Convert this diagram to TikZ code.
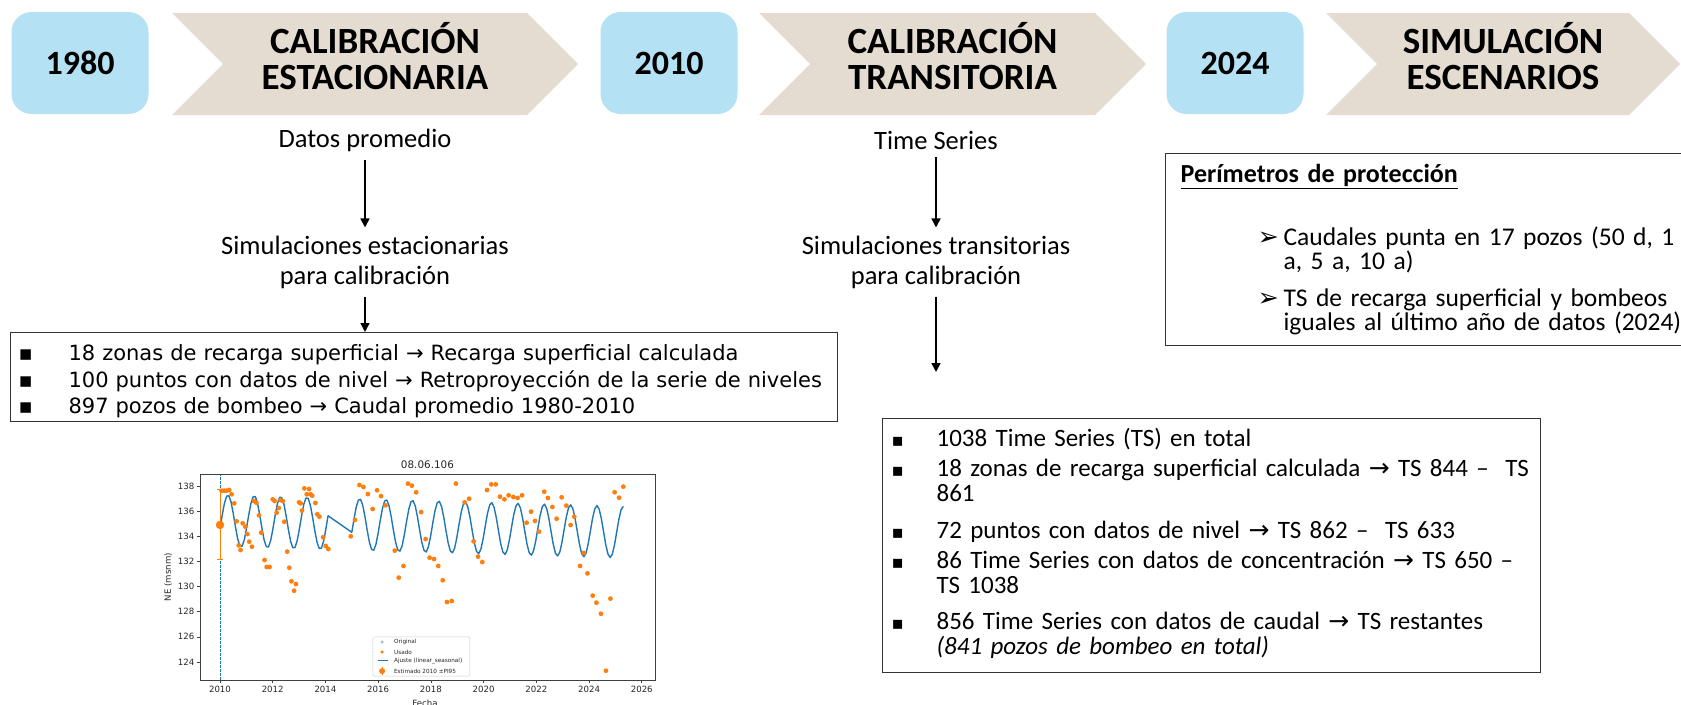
\documentclass[tikz,border=0pt]{standalone}
\usepackage{fontspec}
\setmainfont{Carlito}
\newfontfamily\dejavu{DejaVu Sans}
\usetikzlibrary{arrows.meta}

\definecolor{yearblue}{HTML}{B4E1F3}
\definecolor{phasebeige}{HTML}{E4DBD1}
\definecolor{mplblue}{HTML}{1F77B4}
\definecolor{mplorange}{HTML}{FF7F0E}
\definecolor{mplgrey}{HTML}{AFC0D6}

\newcommand{\sqbullet}{{\dejavu\fontsize{18}{18}\selectfont ▪}}
\newcommand{\tsarrow}{{\dejavu →}}

\begin{document}
\begin{tikzpicture}[x=1pt, y=-1pt,
    yearbox/.style={fill=yearblue, rounded corners=20pt, minimum width=137pt, minimum height=102pt,
      font=\bfseries\fontsize{34}{36}\selectfont},
    phasetext/.style={align=center, font=\bfseries\fontsize{37}{36}\selectfont},
    bodytext/.style={align=center, inner sep=8pt, font=\fontsize{26.5}{30}\selectfont},
    listbox/.style={draw=black!80, line width=1.2pt, fill=white, anchor=north west, align=left},
    flowarrow/.style={line width=1.6pt, -{Triangle[length=9pt,width=9pt]}},
    ticklabel/.style={font=\dejavu\fontsize{8.6}{9}\selectfont, text=black!85, inner sep=2pt},
    legendtext/.style={font=\dejavu\fontsize{5.7}{6}\selectfont, text=black!85, anchor=west, inner sep=1pt},
  ]

	% Page and background.
	\useasboundingbox (0,0) rectangle (1681,704);
	\fill[white] (0,0) rectangle (1681,704);

	% Draw phase chevrons.
	\foreach \lft/\tip/\nm/\txt in {172/578/est/{CALIBRACIÓN\\ESTACIONARIA},
	    759/1146/tra/{CALIBRACIÓN\\TRANSITORIA}, 1326/1680/esc/{SIMULACIÓN\\ESCENARIOS}} {
		\fill[phasebeige] (\lft,13) -- (\tip-51,13) -- (\tip,64) -- (\tip-51,115)
		  -- (\lft,115) -- (\lft+51,64) -- cycle;
		\node[phasetext] (\nm) at ({(\lft+\tip)/2},56) {\txt};
	}

	% Draw years.
	\node[yearbox] (y1980) at (80,63) {1980};
	\node[yearbox] (y2010) at (669,63) {2010};
	\node[yearbox] (y2024) at (1235,63) {2024};

	% Steps below the phases.
	\node[bodytext] (datos) at (365,140) {Datos promedio};
	\node[bodytext] (simest) at (365,262) {Simulaciones estacionarias\\para calibración};
	\node[bodytext] (tseries) at (936,140) {Time Series};
	\node[bodytext] (simtra) at (936,262) {Simulaciones transitorias\\para calibración};
	\coordinate (trafin) at (936,372);

	% Boxes with the inputs.
	\node[listbox, minimum height=86pt, text width=811pt, inner xsep=8pt,
	  font=\dejavu\fontsize{21}{26.5}\selectfont] (recarga) at (10,332) {%
		\rule{0pt}{25pt}\makebox[50pt][l]{▪}18 zonas de recarga superficial → Recarga superficial calculada\\
		\makebox[50pt][l]{▪}\mbox{100 puntos con datos de nivel → Retroproyección de la serie de niveles}\\
		\makebox[50pt][l]{▪}897 pozos de bombeo → Caudal promedio 1980-2010};

	\node[listbox, minimum height=254pt, text width=640pt, inner xsep=9pt,
	  font=\fontsize{25}{25}\selectfont] (series) at (882,418) {%
		\makebox[45pt][l]{\sqbullet}1038 Time Series (TS) en total\\[5pt]
		\makebox[45pt][l]{\sqbullet}\mbox{18 zonas de recarga superficial calculada \tsarrow{} TS 844 – \ TS}\\
		\hspace*{45pt}861\\[12pt]
		\makebox[45pt][l]{\sqbullet}\mbox{72 puntos con datos de nivel \tsarrow{} TS 862 – \ TS 633}\\[5pt]
		\makebox[45pt][l]{\sqbullet}\mbox{86 Time Series con datos de concentración \tsarrow{} TS 650 –}\\
		\hspace*{45pt}TS 1038\\[11pt]
		\makebox[45pt][l]{\sqbullet}\mbox{856 Time Series con datos de caudal \tsarrow{} TS restantes}\\
		\hspace*{45pt}\textit{(841 pozos de bombeo en total)}\rule[-9pt]{0pt}{9pt}};

	\node[listbox, minimum height=192pt, text width=540pt, inner xsep=15pt,
	  font=\fontsize{25.5}{24}\selectfont] (perimetros) at (1165,153) {%
		{\bfseries\fontsize{26}{26}\selectfont\underline{Perímetros de protección}}\\[37pt]
		\hspace*{77pt}\makebox[26pt][l]{\dejavu ➢}\mbox{Caudales punta en 17 pozos (50 d, 1}\\
		\hspace*{103pt}a, 5 a, 10 a)\\[13pt]
		\hspace*{77pt}\makebox[26pt][l]{\dejavu ➢}\mbox{TS de recarga superficial y bombeos}\\
		\hspace*{103pt}\mbox{iguales al último año de datos (2024)}};

	% Draw arrows.
	\draw[flowarrow] (datos) -- (simest);
	\draw[flowarrow] (simest.south) -- (simest.south |- recarga.north);
	\draw[flowarrow] (tseries) -- (simtra);
	\draw[flowarrow] (simtra) -- (trafin);

	% Chart of levels for 08.06.106 (years counted from 2010).
	\begin{scope}[shift={(220pt,-2220.66pt)}, x=26.36pt, y=12.57pt]
		\draw[mplblue, line width=0.7pt, dash pattern=on 2.5pt off 1.5pt] (0,122.57) -- (0,138.95);

		% Fitted curve.
		\draw[mplblue, line width=1.4pt, line join=round]
		  plot[domain=0:4.1, samples=50] (\x,{135.25-0.06*\x+2.05*sin(360*(\x-0.05))})
		  -- plot[domain=5:15.3, samples=125] (\x,{135.25-0.06*\x+2.05*sin(360*(\x-0.05))});

		% Used points.
		\foreach \t/\v in {0.06/137.63,0.16/137.63,0.25/137.63,0.35/137.68,0.44/137.34,0.54/136.62,
		    0.63/135.19,0.71/133.28,0.78/132.91,0.86/135.03,0.96/134.76,1.04/134.18,1.11/133.57,
		    1.21/133.17,1.29/136.81,1.38/136.67,1.48/135.67,1.56/134.29,1.69/132.11,1.77/131.56,
		    1.88/131.56,2.00/136.94,2.07/136.81,2.15/135.88,2.23/136.25,2.30/136.89,2.38/136.81,
		    2.44/135.16,2.55/132.78,2.63/131.50,2.71/130.42,2.81/129.67,2.88/130.20,3.00/136.70,
		    3.06/136.62,3.11/136.04,3.20/137.81,3.29/137.34,3.38/137.76,3.43/137.34,3.50/137.23,
		    3.62/136.65,3.69/135.75,3.77/135.56,3.91/133.92,4.01/133.23,4.11/132.99,4.96/134.00,
		    5.12/135.30,5.29/138.08,5.44/137.92,5.61/137.36,5.79/136.17,5.96/137.66,6.11/137.20,
		    6.28/136.46,6.63/132.86,6.78/130.71,6.96/131.64,7.13/138.19,7.28/138.03,7.44/137.50,
		    7.63/135.93,7.80/133.78,7.95/132.30,8.12/132.19,8.28/131.64,8.45/130.50,8.61/128.77,
		    8.79/128.85,8.95/138.19,9.28/136.70,9.45/136.99,9.62/133.60,9.79/132.38,9.95/131.95,
		    10.13/137.68,10.29/138.13,10.46/138.13,10.62/137.15,10.79/136.94,10.95/137.26,
		    11.13/137.12,11.29/137.05,11.46/137.26,11.63/135.08,11.80/135.96,11.95/135.22,
		    12.10/134.37,12.30/137.55,12.44/137.05,12.61/136.33,12.77/135.40,12.96/137.10,
		    13.14/136.44,13.30/134.90,13.44/135.56,13.66/131.64,13.80/132.67,13.94/131.05,
		    14.14/129.28,14.28/128.72,14.45/127.84,14.64/123.31,14.81/129.04,14.97/137.50,
		    15.14/137.07,15.30/137.95} {
			\fill[mplorange] (\t,\v) circle (2.4pt);
		}

		% Estimated 2010 value.
		\draw[mplorange, line width=0.8pt] (0,132.2) -- (0,137.7)
		  (-0.12,132.2) -- (0.12,132.2) (-0.12,137.7) -- (0.12,137.7);
		\fill[mplorange] (0,134.9) circle (4.2pt);

		% Axes and ticks.
		\draw[line width=0.8pt, black!75] (-0.76,122.57) rectangle (16.5,138.95);
		\foreach \yr [evaluate=\yr as \lab using int(2010+\yr)] in {0,2,...,16} {
			\draw[line width=0.6pt, black!75] (\yr,122.57) -- ++(0,-0.28) node[ticklabel, below] {\lab};
		}
		\foreach \lv in {124,126,...,138} {
			\draw[line width=0.6pt, black!75] (-0.76,\lv) -- ++(-0.13,0) node[ticklabel, left] {\lv};
		}
		\node[ticklabel, font=\dejavu\fontsize{10.4}{11}\selectfont] (ctitle) at (7.87,139.67) {08.06.106};
		\node[ticklabel, rotate=90] (ylab) at (-1.97,130.76) {NE (msnm)};
		\node[ticklabel] (xlab) at (7.78,120.74) {Fecha};

		% Legend.
		\draw[black!20, fill=white, rounded corners=1.5pt, line width=0.5pt] (5.80,125.99) rectangle (9.48,122.88);
		\fill[mplgrey] (6.15,125.59) circle (1.8pt);
		\node[legendtext] (lorig) at (6.56,125.59) {Original};
		\fill[mplorange] (6.15,124.79) circle (1.8pt);
		\node[legendtext] (lusado) at (6.56,124.79) {Usado};
		\draw[mplblue, line width=1pt] (5.98,124.08) -- (6.38,124.08);
		\node[legendtext] (lajuste) at (6.56,124.08) {Ajuste (linear\_seasonal)};
		\draw[mplorange, line width=0.5pt] (6.15,122.98) -- (6.15,123.58);
		\fill[mplorange] (6.15,123.28) circle (3pt);
		\node[legendtext] (lestim) at (6.56,123.28) {Estimado 2010 ±PI95};
	\end{scope}

\end{tikzpicture}
\end{document}
